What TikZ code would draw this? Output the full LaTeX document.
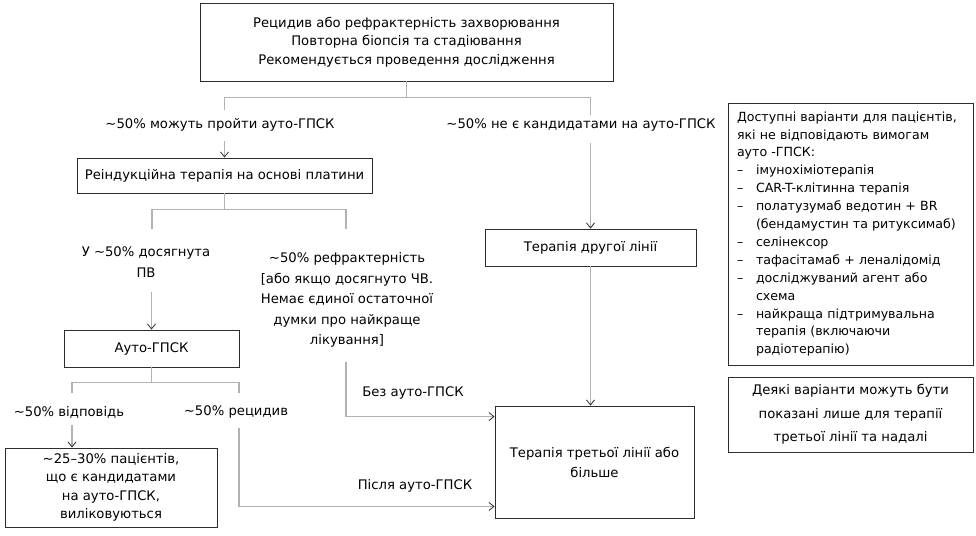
\documentclass[tikz,border=0pt]{standalone}
\usepackage{fontspec}
\setmainfont{DejaVu Sans}
\usetikzlibrary{arrows.meta,calc}
\definecolor{conncol}{RGB}{178,178,178}
\definecolor{boxcol}{RGB}{45,45,45}
\newcommand{\tld}{\textasciitilde}
\newcommand{\lsitem}{\makebox[19pt][l]{–}}
\newcommand{\lscont}{\hspace*{19pt}}
\begin{document}
\begin{tikzpicture}[x=1pt,y=-1pt,
 box/.style={draw=boxcol,line width=0.9pt,align=center,inner sep=0pt,font=\fontsize{13.2}{18.5}\selectfont},
 lbl/.style={align=center,inner sep=2pt,font=\fontsize{13.2}{20.5}\selectfont},
 conn/.style={draw=conncol,line width=1.1pt},
 arr/.style={conn,-{Straight Barb[length=5pt,width=8pt,line width=0.8pt,color=boxcol]}}
]
\useasboundingbox (0,0) rectangle (976,535);
\fill[white] (0,0) rectangle (976,535);

\node[box,minimum width=413,minimum height=78] (top) at (406.5,42) {Рецидив або рефрактерність захворювання\\Повторна біопсія та стадіювання\\Рекомендується проведення дослідження};
\node[box,minimum width=295,minimum height=35] (reind) at (224.5,175.5) {Реіндукційна терапія на основі платини};
\node[box,minimum width=211,minimum height=37] (second) at (590.5,247.5) {Терапія другої лінії};
\node[box,minimum width=199,minimum height=112,font=\fontsize{13.2}{20}\selectfont] (third) at (594.5,462) {Терапія третьої лінії або\\більше};
\node[box,minimum width=175,minimum height=37] (auto) at (151.5,348.5) {Ауто-ГПСК};
\node[box,minimum width=212,minimum height=79,font=\fontsize{13.2}{18.5}\selectfont] (cured) at (111,487.5) {\tld25–30\% пацієнтів,\\що є кандидатами\\на ауто-ГПСК,\\виліковуються};
\node[box,minimum width=245,minimum height=262,text width=227,align=left,font=\fontsize{12.6}{17.9}\selectfont] (avail) at (850.5,234) {Доступні варіанти для пацієнтів,\\
які не відповідають вимогам\\
ауто -ГПСК:\\
\lsitem імунохіміотерапія\\
\lsitem CAR-T-клітинна терапія\\
\lsitem полатузумаб ведотин + BR\\
\lscont(бендамустин та ритуксимаб)\\
\lsitem селінексор\\
\lsitem тафасітамаб + леналідомід\\
\lsitem досліджуваний агент або\\
\lscont схема\\
\lsitem найкраща підтримувальна\\
\lscont терапія (включаючи\\
\lscont радіотерапію)};
\node[box,minimum width=245,minimum height=75,font=\fontsize{13.2}{23.5}\selectfont] (some) at (850.5,414.5) {Деякі варіанти можуть бути\\показані лише для терапії\\третьої лінії та надалі};

\node[lbl] (lab1) at (220,125) {\tld50\% можуть пройти ауто-ГПСК};
\node[lbl] (lab2) at (581,125) {\tld50\% не є кандидатами на ауто-ГПСК};
\node[lbl] (lab3) at (146,262) {У \tld50\% досягнута\\ПВ};
\node[lbl] (lab4) at (347,300) {\tld50\% рефрактерність\\{[}або якщо досягнуто ЧВ.\\Немає єдиної остаточної\\думки про найкраще\\лікування{]}};
\node[lbl] (lab5) at (69,412) {\tld50\% відповідь};
\node[lbl] (lab6) at (236,412) {\tld50\% рецидив};
\node[lbl] (lab7) at (413,393) {Без ауто-ГПСК};
\node[lbl] (lab8) at (415,486) {Після ауто-ГПСК};

\coordinate (j1) at ($(top.south)+(0,16)$);
\draw[conn] (top.south) -- (j1);
\coordinate (l1t) at (reind.north |- 0,110);
\coordinate (l2t) at (second.north |- 0,115);
\draw[conn] (l1t) |- (j1) -| (l2t);
\coordinate (l1b) at (reind.north |- 0,141);
\draw[arr] (l1b) -- (reind.north);
\coordinate (l2b) at (second.north |- 0,143);
\draw[arr] (l2b) -- (second.north);

\coordinate (j2) at ($(reind.south)+(0,16)$);
\draw[conn] (reind.south) -- (j2);
\coordinate (b1) at (152,229);
\coordinate (b2) at (346,229);
\draw[conn] (b1) |- (j2) -| (b2);
\coordinate (a3) at (auto.north |- 0,292);
\draw[arr] (a3) -- (auto.north);

\coordinate (j3) at ($(auto.south)+(0,15)$);
\draw[conn] (auto.south) -- (j3);
\coordinate (c1) at (72,393);
\coordinate (c2) at (239,393);
\draw[conn] (c1) |- (j3) -| (c2);
\coordinate (a5) at (72,425);
\draw[arr] (a5) -- (a5 |- cured.north);
\coordinate (a6) at (239,428);
\draw[arr] (a6) |- ($(third.south west)+(0,-12)$);
\coordinate (a4) at (346,362);
\draw[arr] (a4) |- ($(third.north west)+(0,11)$);
\draw[arr] (second.south) -- (second.south |- third.north);
\end{tikzpicture}
\end{document}
